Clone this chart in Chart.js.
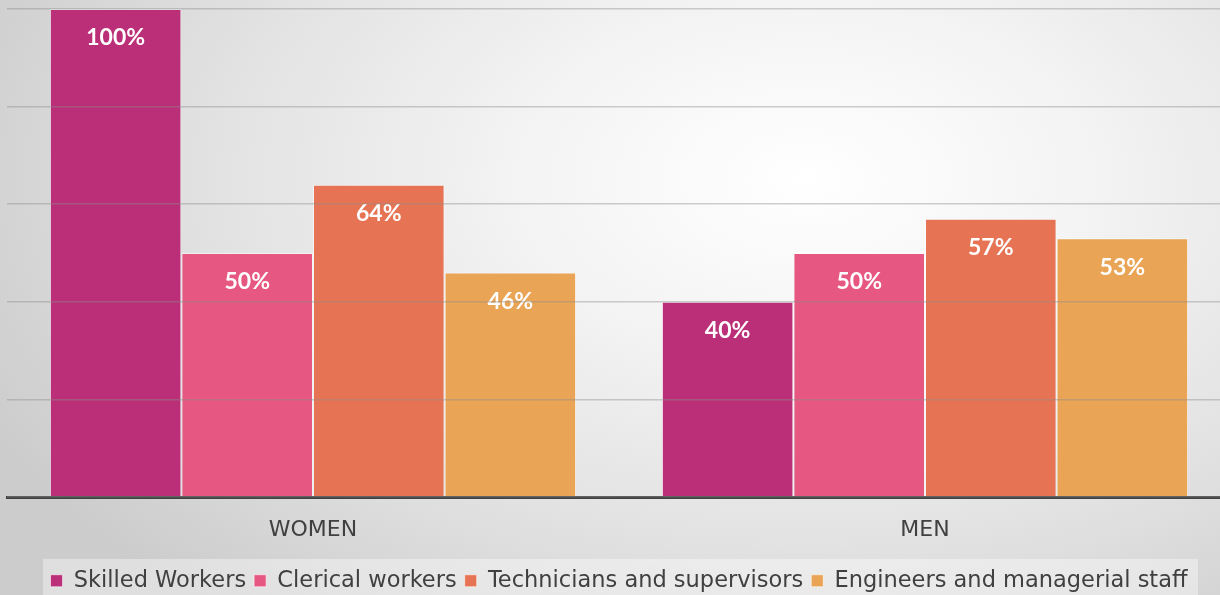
<!DOCTYPE html>
<html><head><meta charset="utf-8">
<script src="https://cdn.jsdelivr.net/npm/chart.js@4.4.1/dist/chart.umd.min.js"></script>
<style>
html,body{margin:0;padding:0;width:1220px;height:595px;overflow:hidden;}
body{background:radial-gradient(ellipse 75% 95% at 66% 30%, #ffffff 0%, #f4f4f4 30%, #e2e2e2 65%, #cccccc 100%);}
#wrap{position:absolute;left:0;top:0;width:1248px;height:604px;}
</style></head>
<body>
<div id="wrap"><canvas id="c"></canvas></div>
<script>
const categories = ['WOMEN', 'MEN'];
const seriesNames = ['Skilled Workers', 'Clerical workers', 'Technicians and supervisors', 'Engineers and managerial staff'];
const skilledWorkers = [100, 40];
const clericalWorkers = [50, 50];
const technicians = [64, 57];
const engineers = [46, 53];
const seriesColors = ['#ba2f78', '#e65782', '#e67454', '#e9a455'];
const yTicks = [0, 20, 40, 60, 80, 100];

const FONT = "'DejaVu Sans', sans-serif";
const LABEL_FONT = "Lato, 'DejaVu Sans', sans-serif";

const valueLabels = {
  id: 'valueLabels',
  afterDatasetsDraw(chart) {
    const ctx = chart.ctx;
    ctx.save();
    ctx.fillStyle = '#ffffff';
    ctx.font = "bold 23px " + LABEL_FONT;
    ctx.textAlign = 'center';
    ctx.textBaseline = 'middle';
    chart.data.datasets.forEach((ds, i) => {
      chart.getDatasetMeta(i).data.forEach((bar, j) => {
        ctx.fillText(ds.data[j] + '%', bar.x, bar.y + 29);
      });
    });
    ctx.restore();
  }
};

const legendBand = {
  id: 'legendBand',
  beforeDraw(chart) {
    const ctx = chart.ctx;
    ctx.save();
    ctx.fillStyle = 'rgba(255,255,255,0.38)';
    ctx.fillRect(43, 559, 1155, 50);
    ctx.restore();
  }
};

const dataSeries = [skilledWorkers, clericalWorkers, technicians, engineers];

new Chart(document.getElementById('c'), {
  type: 'bar',
  data: {
    labels: categories,
    datasets: dataSeries.map((d, i) => ({
      label: seriesNames[i],
      data: d,
      backgroundColor: seriesColors[i],
      borderColor: 'rgba(255,255,255,0.55)',
      borderWidth: 1,
      categoryPercentage: 0.86,
      barPercentage: 1.0
    }))
  },
  options: {
    responsive: true,
    maintainAspectRatio: false,
    animation: false,
    layout: { padding: { left: 7, right: 17, top: 9, bottom: 2 } },
    plugins: {
      tooltip: { enabled: false },
      legend: {
        position: 'bottom',
        labels: {
          font: { family: FONT, size: 22.5 },
          color: '#404040',
          boxWidth: 12,
          boxHeight: 12,
          padding: 8
        }
      }
    },
    scales: {
      x: {
        afterFit(scale) { scale.height = 64.5; },
        grid: { display: false, drawTicks: false },
        border: { display: true, color: '#404040', width: 3 },
        ticks: { font: { family: FONT, size: 22 }, color: '#404040', padding: 20 }
      },
      y: {
        min: 0, max: 100,
        afterBuildTicks(scale) { scale.ticks = yTicks.map(v => ({ value: v })); },
        ticks: { display: false },
        grid: { color: 'rgba(140,140,140,0.42)', lineWidth: 1.5, drawTicks: false, z: 1 },
        border: { display: false }
      }
    }
  },
  plugins: [legendBand, valueLabels]
});
</script>
</body></html>
